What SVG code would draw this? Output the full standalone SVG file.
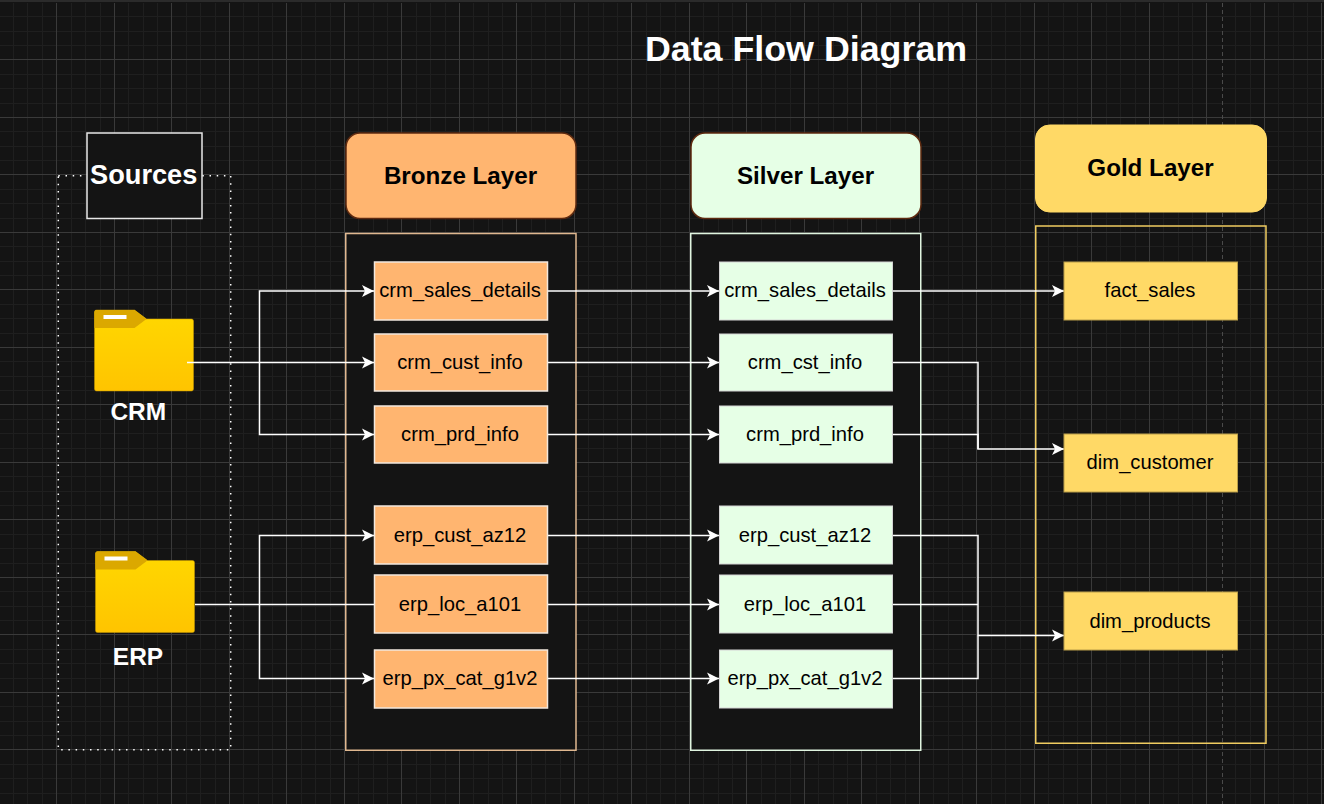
<svg xmlns="http://www.w3.org/2000/svg" width="1324" height="804" viewBox="0 0 1324 804">
<style>
text{font-family:"Liberation Sans",Arial,sans-serif;text-anchor:middle}
.t{font-size:20.2px;fill:#000}
.h{font-size:24.2px;font-weight:bold;fill:#000}
.w{font-weight:bold;fill:#fff}
.c{fill:none;stroke:#fff;stroke-width:1.5;stroke-linejoin:miter}
.a{marker-end:url(#arr)}
.b{fill:#ffb570;stroke:#f2e8de;stroke-width:1.5}
.s{fill:#e6ffe6;stroke:#d4d4d4;stroke-width:1}
.g{fill:#ffd966;stroke:#b89c48;stroke-width:1}
</style>
<defs>
<marker id="arr" markerUnits="userSpaceOnUse" markerWidth="14" markerHeight="14" refX="12" refY="7" orient="auto"><path d="M0 1 L12 7 L0 13 L3 7Z" fill="#fff"/></marker>
<linearGradient id="fold" x1="0" y1="0" x2="0" y2="1"><stop offset="0" stop-color="#ffd800"/><stop offset="1" stop-color="#ffc400"/></linearGradient>
<g id="folder">
<path d="M0 2a2 2 0 0 1 2-2H40L52 9H97a2 2 0 0 1 2 2V79a2 2 0 0 1-2 2H2a2 2 0 0 1-2-2Z" fill="url(#fold)" stroke="#c99a00" stroke-width=".5"/>
<path d="M0 2a2 2 0 0 1 2-2H40L52 9 L40 18H0Z" fill="#dba800"/>
<rect x="9" y="5" width="23" height="4" fill="#fff"/>
</g>
</defs>
<rect width="1324" height="804" fill="#141414"/>
<rect width="1324" height="2" fill="#2b2b2b"/>
<g id="grid" fill="none">
<path stroke="#1f1f1f" stroke-width="1" d="M13.5 3V804M27.5 3V804M42.5 3V804M71.5 3V804M85.5 3V804M100.5 3V804M128.5 3V804M143.5 3V804M157.5 3V804M186.5 3V804M200.5 3V804M215.5 3V804M243.5 3V804M258.5 3V804M272.5 3V804M301.5 3V804M315.5 3V804M330.5 3V804M358.5 3V804M373.5 3V804M387.5 3V804M416.5 3V804M430.5 3V804M445.5 3V804M473.5 3V804M488.5 3V804M502.5 3V804M531.5 3V804M545.5 3V804M560.5 3V804M588.5 3V804M603.5 3V804M617.5 3V804M646.5 3V804M660.5 3V804M675.5 3V804M703.5 3V804M718.5 3V804M732.5 3V804M761.5 3V804M775.5 3V804M790.5 3V804M818.5 3V804M833.5 3V804M847.5 3V804M876.5 3V804M890.5 3V804M905.5 3V804M933.5 3V804M948.5 3V804M962.5 3V804M991.5 3V804M1005.5 3V804M1020.5 3V804M1048.5 3V804M1063.5 3V804M1077.5 3V804M1106.5 3V804M1120.5 3V804M1135.5 3V804M1163.5 3V804M1178.5 3V804M1192.5 3V804M1235.5 3V804M1250.5 3V804M1278.5 3V804M1293.5 3V804M1307.5 3V804"/>
<path stroke="#1f1f1f" stroke-width="1" d="M0 16.5H1324M0 31.5H1324M0 45.5H1324M0 74.5H1324M0 88.5H1324M0 103.5H1324M0 131.5H1324M0 146.5H1324M0 160.5H1324M0 189.5H1324M0 203.5H1324M0 218.5H1324M0 246.5H1324M0 261.5H1324M0 275.5H1324M0 304.5H1324M0 318.5H1324M0 333.5H1324M0 361.5H1324M0 376.5H1324M0 390.5H1324M0 419.5H1324M0 433.5H1324M0 448.5H1324M0 476.5H1324M0 491.5H1324M0 505.5H1324M0 534.5H1324M0 548.5H1324M0 563.5H1324M0 591.5H1324M0 606.5H1324M0 620.5H1324M0 649.5H1324M0 663.5H1324M0 678.5H1324M0 706.5H1324M0 721.5H1324M0 735.5H1324M0 764.5H1324M0 778.5H1324M0 793.5H1324"/>
<path stroke="#3a3a3a" stroke-width="1" d="M56.5 3V804M114.5 3V804M171.5 3V804M229.5 3V804M286.5 3V804M344.5 3V804M401.5 3V804M459.5 3V804M516.5 3V804M574.5 3V804M631.5 3V804M689.5 3V804M746.5 3V804M804.5 3V804M861.5 3V804M919.5 3V804M976.5 3V804M1034.5 3V804M1091.5 3V804M1149.5 3V804M1206.5 3V804M1264.5 3V804M1321.5 3V804"/>
<path stroke="#3a3a3a" stroke-width="1" d="M0 59.5H1324M0 117.5H1324M0 174.5H1324M0 232.5H1324M0 289.5H1324M0 347.5H1324M0 404.5H1324M0 462.5H1324M0 519.5H1324M0 577.5H1324M0 634.5H1324M0 692.5H1324M0 749.5H1324"/>
<path stroke="#4a4a4a" stroke-width="1" stroke-dasharray="4 3" d="M1222.5 3V804"/>
</g>
<g id="title"><text class="w" x="806" y="61" font-size="35.800">Data Flow Diagram</text></g>
<g id="sources-container"><rect x="58.300" y="175.700" width="172.400" height="574" fill="none" stroke="#fff" stroke-width="1.500" stroke-dasharray="1.500 5.700"/></g>
<g id="sources"><rect x="87" y="133" width="115" height="85.500" fill="#141414" stroke="#e8e8e8" stroke-width="1.500"/><text class="w" x="143.700" y="184" font-size="27.200">Sources</text></g>
<g id="bronze-container"><rect x="345.750" y="233.500" width="230.250" height="516.750" fill="#141414" stroke="#e0b890" stroke-width="1.500"/></g>
<g id="silver-container"><rect x="690.750" y="233.500" width="230" height="516.750" fill="#141414" stroke="#e0f5e0" stroke-width="1.500"/></g>
<g id="gold-container"><rect x="1035.750" y="226" width="230.250" height="517.250" fill="none" stroke="#f0cc60" stroke-width="1.500"/></g>
<g id="bronze-layer"><rect x="346" y="133" width="230" height="85.500" rx="14" fill="#ffb570" stroke="#5e2a10" stroke-width="1.500"/><text class="h" x="460.500" y="184">Bronze Layer</text></g>
<g id="silver-layer"><rect x="691" y="133" width="230" height="85.500" rx="14" fill="#e6ffe6" stroke="#5e2a10" stroke-width="1.500"/><text class="h" x="805.500" y="184">Silver Layer</text></g>
<g id="gold-layer"><rect x="1035.500" y="125" width="231" height="87" rx="14" fill="#ffd966" stroke="#ffd966" stroke-width="1"/><text class="h" x="1150.500" y="176">Gold Layer</text></g>
<g id="crm"><use href="#folder" x="94.500" y="310"/><text class="w" x="138.300" y="420" font-size="24.500">CRM</text></g>
<g id="erp"><use href="#folder" x="95.500" y="551.500"/><text class="w" x="138" y="665" font-size="24.500">ERP</text></g>
<g id="connectors">
<path class="c a" d="M187 362.500H374"/>
<path class="c a" d="M259.500 362.500V291H374"/>
<path class="c a" d="M259.500 362.500V434.500H374"/>
<path class="c" d="M195 604.500H374"/>
<path class="c a" d="M259.500 604.500V535.500H374"/>
<path class="c a" d="M259.500 604.500V678.500H374"/>
<path class="c a" d="M548 291H719"/>
<path class="c a" d="M548 362.500H719"/>
<path class="c a" d="M548 434.500H719"/>
<path class="c a" d="M548 535.500H719"/>
<path class="c a" d="M548 604.500H719"/>
<path class="c a" d="M548 678.500H719"/>
<path class="c a" d="M893 291H1064"/>
<path class="c a" d="M893 362.500H978V449H1064"/>
<path class="c" d="M893 434.500H978V449"/>
<path class="c a" d="M893 535.500H978V635.500H1064"/>
<path class="c" d="M893 604.500H978"/>
<path class="c" d="M893 678.500H978V635.500"/>
</g>
<g id="b1"><rect class="b" x="374.500" y="262" width="173" height="58"/><text class="t" x="460" y="297">crm_sales_details</text></g>
<g id="b2"><rect class="b" x="374.500" y="334" width="173" height="57"/><text class="t" x="460" y="369">crm_cust_info</text></g>
<g id="b3"><rect class="b" x="374.500" y="406" width="173" height="57"/><text class="t" x="460" y="441">crm_prd_info</text></g>
<g id="b4"><rect class="b" x="374.500" y="506" width="173" height="58"/><text class="t" x="460" y="542">erp_cust_az12</text></g>
<g id="b5"><rect class="b" x="374.500" y="575" width="173" height="58"/><text class="t" x="460" y="611">erp_loc_a101</text></g>
<g id="b6"><rect class="b" x="374.500" y="650" width="173" height="58"/><text class="t" x="460" y="685">erp_px_cat_g1v2</text></g>
<g id="s1"><rect class="s" x="719.500" y="262" width="173" height="58"/><text class="t" x="805" y="297">crm_sales_details</text></g>
<g id="s2"><rect class="s" x="719.500" y="334" width="173" height="57"/><text class="t" x="805" y="369">crm_cst_info</text></g>
<g id="s3"><rect class="s" x="719.500" y="406" width="173" height="57"/><text class="t" x="805" y="441">crm_prd_info</text></g>
<g id="s4"><rect class="s" x="719.500" y="506" width="173" height="58"/><text class="t" x="805" y="542">erp_cust_az12</text></g>
<g id="s5"><rect class="s" x="719.500" y="575" width="173" height="58"/><text class="t" x="805" y="611">erp_loc_a101</text></g>
<g id="s6"><rect class="s" x="719.500" y="650" width="173" height="58"/><text class="t" x="805" y="685">erp_px_cat_g1v2</text></g>
<g id="g1"><rect class="g" x="1064" y="262" width="173.500" height="58"/><text class="t" x="1150" y="297">fact_sales</text></g>
<g id="g2"><rect class="g" x="1064" y="434" width="173.500" height="58"/><text class="t" x="1150" y="469">dim_customer</text></g>
<g id="g3"><rect class="g" x="1064" y="592" width="173.500" height="58"/><text class="t" x="1150" y="628">dim_products</text></g>
</svg>
